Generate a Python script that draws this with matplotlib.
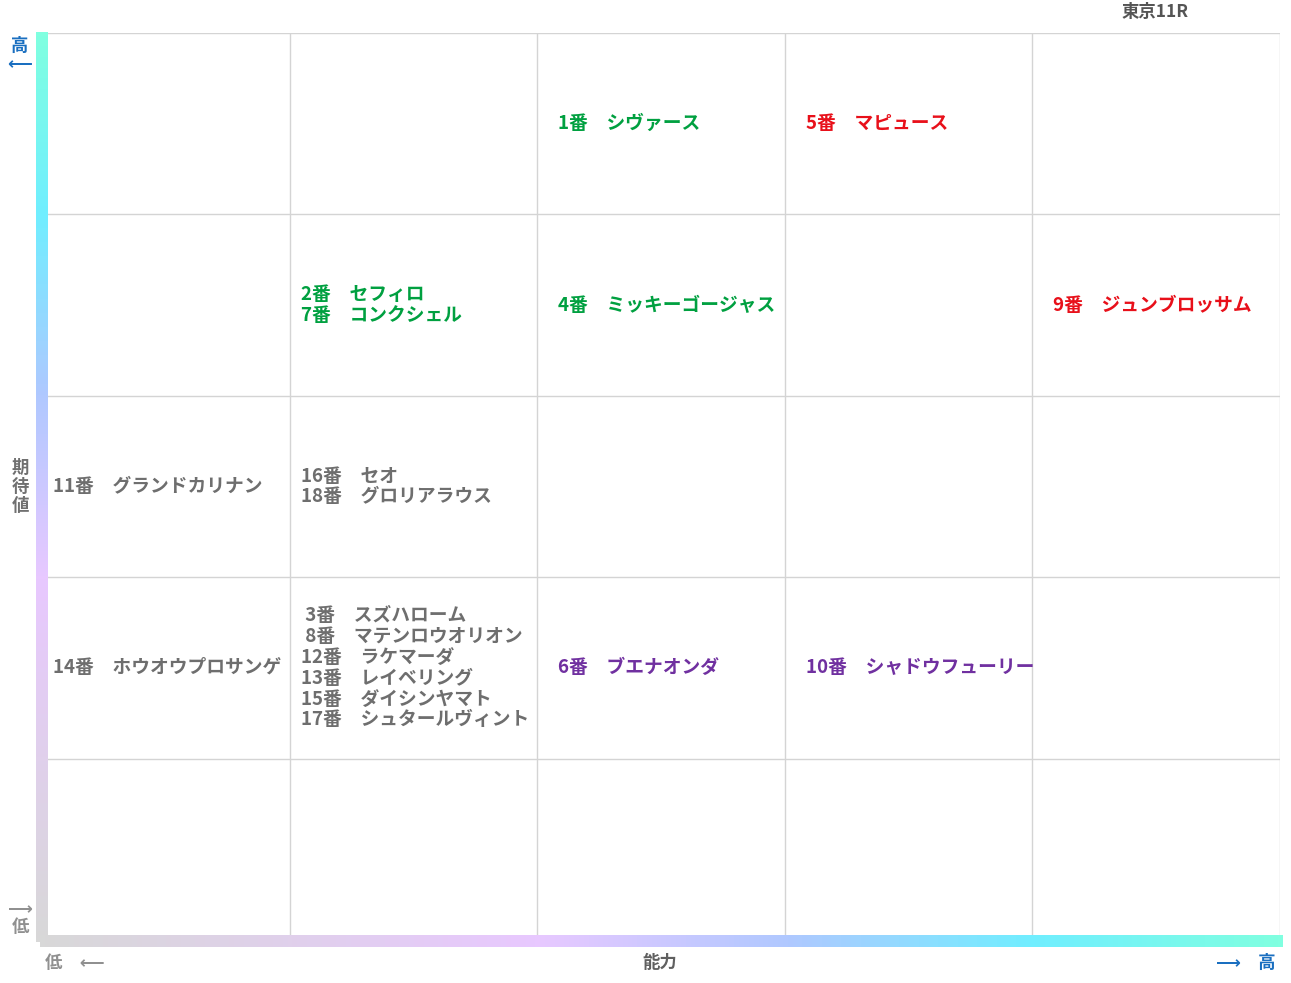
import numpy as np
import matplotlib.pyplot as plt
from matplotlib.colors import LinearSegmentedColormap

plt.rcParams['font.family'] = ['Noto Sans CJK JP', 'DejaVu Sans']

title = '東京11R'
x_label = '能力'
y_label = '期\n待\n値'

# (ability column, expectation row from bottom, text, colour key)
cells = [
    (2, 4, ['1番　シヴァース'], 'green'),
    (3, 4, ['5番　マピュース'], 'red'),
    (1, 3, ['2番　セフィロ', '7番　コンクシェル'], 'green'),
    (2, 3, ['4番　ミッキーゴージャス'], 'green'),
    (4, 3, ['9番　ジュンブロッサム'], 'red'),
    (0, 2, ['11番　グランドカリナン'], 'grey'),
    (1, 2, ['16番　セオ', '18番　グロリアラウス'], 'grey'),
    (0, 1, ['14番　ホウオウプロサンゲ'], 'grey'),
    (1, 1, [' 3番　スズハローム', ' 8番　マテンロウオリオン', '12番　ラケマーダ',
            '13番　レイベリング', '15番　ダイシンヤマト', '17番　シュタールヴィント'], 'grey'),
    (2, 1, ['6番　ブエナオンダ'], 'purple'),
    (3, 1, ['10番　シャドウフューリー'], 'purple'),
]
colours = {'green': '#00a040', 'red': '#e8101a', 'grey': '#6e6e6e', 'purple': '#7030a0'}
n_cols, n_rows = 5, 5

fig = plt.figure(figsize=(12.91, 9.83), dpi=100)
ax = fig.add_axes([42/1291, 1-940/983, 1238/1291, 907/983])
ax.set_xlim(0, n_cols)
ax.set_ylim(0, n_rows)
for i in range(1, n_cols + 1):
    ax.axvline(i, color='#d4d4d4', lw=1)
for j in range(1, n_rows + 1):
    ax.axhline(j, color='#d4d4d4', lw=1)
ax.set_xticks([])
ax.set_yticks([])
for s in ax.spines.values():
    s.set_visible(False)

for c, r, lines, key in cells:
    x = c + (0.045 if c < 2 else 0.085)
    ax.text(x, r + 0.5, '\n'.join(lines), color=colours[key], fontsize=13.5,
            fontweight='bold', ha='left', va='center', linespacing=1.12)

# gradient axis bars
stops = [(0.0, '#d8d8d8'), (0.4, '#e8c8ff'), (0.6, '#b0c8ff'), (0.8, '#70eeff'), (1.0, '#80ffe0')]
gcmap = LinearSegmentedColormap.from_list('g', stops)
vax = fig.add_axes([36/1291, 1-942/983, 12/1291, 910/983])
vax.imshow(np.linspace(1, 0, 256).reshape(-1, 1), cmap=gcmap, aspect='auto')
vax.axis('off')
hax = fig.add_axes([40/1291, 1-947/983, 1243/1291, 12/983])
hax.imshow(np.linspace(0, 1, 256).reshape(1, -1), cmap=gcmap, aspect='auto')
hax.axis('off')

fig.text(1155/1291, 1-12/983, title, color='#555555', fontsize=12.5, fontweight='bold', ha='center', va='center')
fig.text(20/1291, 1-55/983, '高\n⟵', color='#1a6fc0', fontsize=12.5, fontweight='bold',
         ha='center', va='center', linespacing=1.0)
fig.text(20/1291, 1-487/983, y_label, color='#707070', fontsize=12.5, fontweight='bold',
         ha='center', va='center', linespacing=1.1)
fig.text(20/1291, 1-918/983, '⟶\n低', color='#909090', fontsize=12.5, fontweight='bold',
         ha='center', va='center', linespacing=1.0)
fig.text(45/1291, 1-963/983, '低　⟵', color='#909090', fontsize=12.5, fontweight='bold', ha='left', va='center')
fig.text(660/1291, 1-963/983, x_label, color='#606060', fontsize=12.5, fontweight='bold', ha='center', va='center')
fig.text(1276/1291, 1-963/983, '⟶　高', color='#1a6fc0', fontsize=12.5, fontweight='bold', ha='right', va='center')

fig.savefig('out.png', dpi=100)
